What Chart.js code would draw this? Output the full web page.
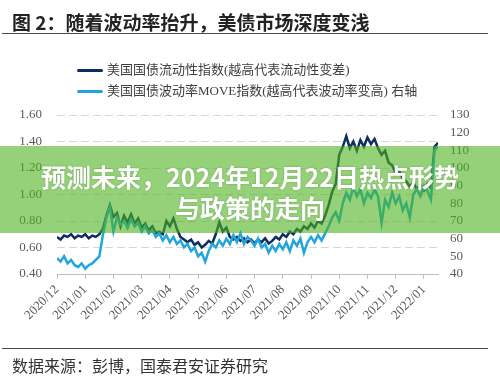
<!DOCTYPE html>
<html>
<head>
<meta charset="utf-8">
<script src="https://cdn.jsdelivr.net/npm/chart.js@4.4.1/dist/chart.umd.min.js"></script>
<style>
  html, body { margin: 0; padding: 0; background: #fff; }
  #wrap { position: relative; width: 500px; height: 380px; overflow: hidden; background: #fff; }
  #c { position: absolute; left: 0; top: 0; }
  .abs { position: absolute; white-space: nowrap; }
  #title { left: 12px; top: 8px; line-height: 24px; font: 700 19px "Noto Sans CJK SC", sans-serif; color: #222; }
  .rule { position: absolute; left: 2px; width: 486px; height: 1px; background: #4a4a4a; }
  .lg { left: 77px; width: 26px; height: 3px; border-radius: 2px; }
  .lgt { left: 107px; font: 13px "Liberation Serif", "Noto Sans CJK SC", serif; color: #404040; line-height: 16px; }
  #banner { position: absolute; left: 0; top: 146px; width: 500px; height: 87px; background: rgba(76,178,30,0.6); z-index: 5; }
  #btext { position: absolute; left: 0; top: 161px; width: 500px; text-align: center; z-index: 6;
           font: 700 25px "Noto Sans CJK SC", sans-serif; color: #fff; line-height: 31px;
           text-shadow: 0 0 2px rgba(0,0,0,0.25); }
  #src { left: 12px; top: 354px; font: 16px "Noto Sans CJK SC", sans-serif; color: #333; line-height: 22px; }
</style>
</head>
<body>
<div id="wrap">
  <canvas id="c" width="500" height="380"></canvas>
  <div id="title" class="abs">图 2：随着波动率抬升，美债市场深度变浅</div>
  <div class="rule" style="top:33px"></div>
  <div class="abs lg" style="top:69px;background:#0e2d5c"></div>
  <div class="abs lgt" style="top:62px">美国国债流动性指数(越高代表流动性变差)</div>
  <div class="abs lg" style="top:90px;background:#22a5dd"></div>
  <div class="abs lgt" style="top:83px">美国国债波动率MOVE指数(越高代表波动率变高) 右轴</div>
  <div id="banner"></div>
  <div id="btext" class="abs">预测未来，2024年12月22日热点形势<br>与政策的走向</div>
  <div class="rule" style="top:348px"></div>
  <div id="src" class="abs">数据来源：彭博，国泰君安证券研究</div>
</div>
<script>
// ---- data (sampled every 1/8 month starting 2020/12) ----
const monthLabels = ['2020/12','2021/01','2021/02','2021/03','2021/04','2021/05','2021/06',
                     '2021/07','2021/08','2021/09','2021/10','2021/11','2021/12','2022/01'];
const sampleStep = 0.125; // months between samples
const liquidity = [
  0.68,0.66,0.69,0.68,0.70,0.67,0.69,0.68,
  0.70,0.67,0.69,0.68,0.70,0.74,0.84,0.92,
  0.83,0.86,0.76,0.84,0.79,0.85,0.78,0.82,
  0.75,0.78,0.73,0.76,0.71,0.72,0.70,0.80,
  0.76,0.82,0.74,0.68,0.66,0.64,0.66,0.62,
  0.64,0.60,0.62,0.65,0.63,0.70,0.79,0.72,
  0.75,0.68,0.66,0.68,0.65,0.67,0.64,0.66,
  0.63,0.66,0.64,0.67,0.63,0.65,0.68,0.66,
  0.70,0.68,0.72,0.70,0.74,0.72,0.76,0.74,
  0.78,0.75,0.80,0.78,0.84,0.92,1.02,1.08,
  1.30,1.36,1.44,1.35,1.40,1.33,1.41,1.36,
  1.43,1.38,1.42,1.35,1.30,1.33,1.24,1.22,
  1.16,1.18,1.12,1.10,1.06,1.09,1.04,1.07,
  1.03,1.08,1.05,1.36,1.39
];
const move = [
  49,47,50,46,48,45,44,46,
  43,45,46,48,50,62,72,78,
  64,72,68,70,66,71,67,69,
  64,67,63,65,61,63,59,62,
  58,61,57,59,55,57,53,55,
  50,52,47,53,57,55,59,56,
  60,57,62,58,63,57,61,59,
  56,60,55,57,52,56,53,57,
  54,58,53,59,56,60,52,58,
  61,58,62,59,63,67,72,75,
  70,80,86,82,89,84,88,80,
  86,83,88,84,69,82,78,86,
  80,84,76,80,72,85,88,84,
  90,87,82,110,112
];
const leftTicks = { min: 0.4, max: 1.6, step: 0.2 };
const rightTicks = { min: 40, max: 130, step: 10 };

const toPts = arr => arr.map((v, i) => ({ x: i * sampleStep, y: v }));
const serif = "'Liberation Serif', 'Times New Roman', serif";

new Chart(document.getElementById('c'), {
  type: 'line',
  data: {
    datasets: [
      { label: '美国国债波动率MOVE指数(越高代表波动率变高) 右轴', data: toPts(move), yAxisID: 'y1',
        borderColor: '#22a5dd', borderWidth: 2.5, pointRadius: 0, tension: 0 },
      { label: '美国国债流动性指数(越高代表流动性变差)', data: toPts(liquidity), yAxisID: 'y',
        borderColor: '#0e2d5c', borderWidth: 2.5, pointRadius: 0, tension: 0 }
    ]
  },
  options: {
    responsive: false,
    animation: false,
    devicePixelRatio: 1,
    layout: { padding: { top: 115, left: 0, right: 0, bottom: 0 } },
    plugins: { legend: { display: false }, tooltip: { enabled: false } },
    scales: {
      x: {
        type: 'linear', min: 0, max: (liquidity.length - 1) * sampleStep,
        afterFit: s => { s.height = 106; },
        afterBuildTicks: s => { s.ticks = monthLabels.map((_, i) => ({ value: i })); },
        ticks: { autoSkip: false, maxRotation: 45, minRotation: 45, padding: 3,
                 color: '#595959', font: { family: serif, size: 13 },
                 callback: v => monthLabels[v] ?? '' },
        grid: { drawOnChartArea: false, drawTicks: true, tickLength: 5, color: '#bfbfbf' },
        border: { display: true, color: '#bfbfbf' }
      },
      y: {
        position: 'left', min: leftTicks.min, max: leftTicks.max,
        afterFit: s => { s.width = 57; },
        ticks: { stepSize: leftTicks.step, autoSkip: false, padding: 15, color: '#595959',
                 font: { family: serif, size: 13 }, callback: v => Number(v).toFixed(2) },
        grid: { color: '#d6d6d6', lineWidth: 1, drawTicks: false },
        border: { display: false, dash: [8, 4] }
      },
      y1: {
        position: 'right', min: rightTicks.min, max: rightTicks.max,
        afterFit: s => { s.width = 62; },
        ticks: { stepSize: rightTicks.step, autoSkip: false, padding: 12, color: '#595959',
                 font: { family: serif, size: 13 } },
        grid: { drawOnChartArea: false, drawTicks: false },
        border: { display: false }
      }
    }
  }
});
</script>
</body>
</html>
